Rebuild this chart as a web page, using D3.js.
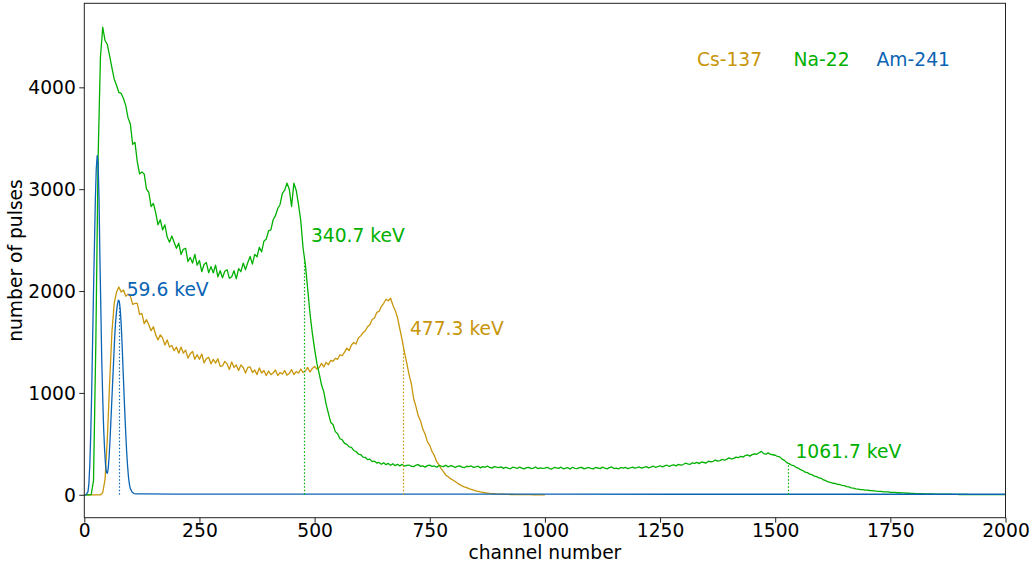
<!DOCTYPE html>
<html>
<head>
<meta charset="utf-8">
<script src="https://cdn.jsdelivr.net/npm/d3@7"></script>
<style>
  html, body { margin: 0; padding: 0; background: #fff; }
  svg { display: block; font-family: "DejaVu Sans", sans-serif; }
</style>
</head>
<body>
<svg id="chart" width="1035" height="566"></svg>
<script>
// ---------------- DATA ----------------
const xTicks = [0, 250, 500, 750, 1000, 1250, 1500, 1750, 2000];
const yTicks = [0, 1000, 2000, 3000, 4000];

// Na-22 counts, every 5 channels from 0 to 2000
const naCounts = [
  0,0,0,2,140,1480,3310,4290,4590,4460,4420,4310,4190,4080,4020,3950,3940,3890,3820,3700,
  3640,3440,3460,3270,3150,3170,3150,3000,2970,2830,2860,2770,2650,2700,2600,2650,2530,2480,2540,2480,
  2420,2470,2360,2410,2420,2290,2330,2275,2360,2255,2300,2190,2260,2280,2180,2240,2180,2255,2140,2200,
  2130,2195,2210,2125,2140,2200,2120,2220,2190,2275,2210,2280,2340,2265,2360,2335,2430,2385,2490,2510,
  2590,2600,2700,2740,2810,2850,2960,2990,3060,3000,2830,3060,2990,2850,2690,2420,2260,2020,1780,1590,
  1430,1290,1190,1080,1010,890,800,710,690,620,600,550,540,505,495,470,465,435,425,400,
  395,370,368,345,350,325,330,312,318,300,315,296,308,290,305,286,300,284,298,282,
  288,292,280,276,290,296,279,284,272,286,291,278,283,270,288,281,276,290,274,285,
  281,268,279,284,271,266,280,276,283,269,273,281,264,277,270,282,268,262,277,271,
  266,274,259,270,262,255,271,266,258,272,261,254,267,270,257,262,273,256,264,259,
  262,270,257,253,268,264,259,271,255,262,266,252,270,260,257,266,269,254,261,268,
  259,254,268,263,257,271,262,255,266,273,258,261,254,268,262,270,256,263,271,262,
  266,273,262,270,276,264,272,281,270,277,285,274,283,290,278,288,294,284,298,291,
  297,310,303,298,314,309,318,306,322,317,312,330,322,328,341,331,336,347,339,350,
  362,351,357,370,364,378,370,385,391,380,394,402,398,412,426,404,398,411,396,393,
  388,376,372,350,338,316,306,292,287,270,262,246,238,222,217,203,197,183,178,165,
  162,146,138,126,122,113,112,103,101,93,89,80,77,68,66,59,56,51,51,46,
  46,42,41,39,35,34,33,29,28,28,25,24,23,20,20,18,18,15,15,14,
  13,12,11,11,10,9,9,8,8,7,7,6,6,6,5,5,5,4,4,4,
  3,3,3,3,2,2,2,2,2,2,2,2,2,1,1,1,1,1,1,1,
  1
];

// Cs-137 counts, every 5 channels from 0 to 1000
const csCounts = [
  0,0,0,0,0,0,0,0,20,150,550,1100,1600,1880,1990,2040,1990,2010,1950,1970,
  1950,1870,1880,1880,1770,1780,1680,1720,1670,1610,1650,1570,1520,1570,1540,1470,1520,1450,1465,1415,
  1450,1390,1450,1390,1420,1342,1385,1407,1330,1375,1330,1382,1295,1337,1350,1285,1330,1292,1335,1260,
  1265,1310,1285,1230,1305,1250,1275,1220,1275,1250,1195,1250,1255,1200,1225,1180,1245,1195,1220,1170,
  1215,1180,1195,1225,1170,1200,1185,1220,1175,1190,1230,1180,1210,1195,1235,1200,1215,1250,1205,1240,
  1260,1235,1250,1290,1255,1300,1275,1320,1310,1340,1330,1375,1365,1400,1440,1415,1470,1495,1480,1540,
  1560,1590,1610,1650,1670,1720,1735,1790,1800,1850,1880,1920,1905,1930,1860,1810,1740,1630,1520,1400,
  1295,1180,1090,945,865,775,725,645,595,520,485,425,385,325,295,255,225,192,178,158,
  145,130,115,100,88,78,70,60,52,45,38,33,28,24,20,17,14,12,10,8,
  7,6,5,4,4,3,3,2,2,2,1,1,1,1,1,0,0,0,0,0,
  0
];

// Am-241 counts at listed channels
const amChannels = [0,4,8,10,12,14,16,18,20,22,24,26,28,30,32,34,36,38,40,42,44,46,48,50,52,54,56,58,60,62,64,66,68,70,72,74,76,78,80,82,84,86,88,90,92,94,96,98,100,104,108,115,130,200,400,700,1000,1300,1600,2000];
const amCounts   = [0,2,30,110,300,600,1000,1500,2000,2450,2900,3200,3330,3250,2900,2300,1800,1300,950,650,450,300,220,210,260,380,550,750,950,1150,1350,1550,1700,1800,1870,1910,1900,1820,1680,1480,1250,1020,800,600,420,280,170,100,60,25,12,8,8,7,7,6,6,5,5,5];

const naChannels = d3.range(0, 2001, 5);
const csChannels = d3.range(0, 1001, 5);

// photo-peak annotations
const peakLabels   = ["59.6 keV", "340.7 keV", "477.3 keV", "1061.7 keV"];
const peakChannels = [76, 476, 692, 1528];
const peakTops     = [1880, 2330, 1420, 310];
const peakTextX    = [92, 492, 707, 1544];
const peakTextY    = [1950, 2484, 1569, 360];
const peakSeries   = ["am", "na", "cs", "na"];

// legend-like texts
const sourceNames    = ["Cs-137", "Na-22", "Am-241"];
const sourceKeys     = ["cs", "na", "am"];
const sourceTextX    = [1330, 1540, 1720];
const sourceTextY    = 4206;

// ---------------- STYLE ----------------
const colors = { cs: "#c8960a", na: "#00b000", am: "#0a64b4" };
const W = 1035, H = 566;
const margin = { left: 84.3, right: W - 1005.5, top: 3.3, bottom: H - 517.7 };
const FS = 18.7;

const svg = d3.select("#chart");
const x = d3.scaleLinear().domain([0, 2000]).range([margin.left, W - margin.right]);
const y = d3.scaleLinear().domain([-225, 4825]).range([H - margin.bottom, margin.top]);

const g = svg.append("g");

svg.append("defs").append("clipPath").attr("id", "clip")
  .append("rect").attr("x", margin.left).attr("y", margin.top)
  .attr("width", x.range()[1] - margin.left).attr("height", y.range()[0] - margin.top);

const plot = g.append("g").attr("clip-path", "url(#clip)");

const line = d3.line().x(d => x(d[0])).y(d => y(d[1]));

const series = [
  { key: "cs", data: csChannels.map((c, i) => [c, csCounts[i]]) },
  { key: "na", data: naChannels.map((c, i) => [c, naCounts[i]]) },
  { key: "am", data: amChannels.map((c, i) => [c, amCounts[i]]) }
];

series.forEach(s => {
  plot.append("path")
    .attr("d", line(s.data))
    .attr("fill", "none")
    .attr("stroke", colors[s.key])
    .attr("stroke-width", 1.3)
    .attr("stroke-linejoin", "round");
});

// dotted lines
peakChannels.forEach((c, i) => {
  const px = Math.round(x(c)) + 0.5;
  plot.append("line")
    .attr("x1", px).attr("x2", px)
    .attr("y1", y(0)).attr("y2", y(peakTops[i]))
    .attr("stroke", colors[peakSeries[i]])
    .attr("stroke-width", 1.2)
    .attr("stroke-dasharray", "1.5,2");
});

// peak labels
peakLabels.forEach((t, i) => {
  g.append("text")
    .attr("x", x(peakTextX[i])).attr("y", y(peakTextY[i]))
    .attr("fill", colors[peakSeries[i]])
    .attr("font-size", FS)
    .text(t);
});

// source names
sourceNames.forEach((t, i) => {
  g.append("text")
    .attr("x", x(sourceTextX[i])).attr("y", y(sourceTextY))
    .attr("fill", colors[sourceKeys[i]])
    .attr("font-size", FS)
    .text(t);
});

// axes
const xAxis = d3.axisBottom(x).tickValues(xTicks).tickSize(5).tickPadding(4).tickFormat(d3.format("d"));
const yAxis = d3.axisLeft(y).tickValues(yTicks).tickSize(5).tickPadding(4).tickFormat(d3.format("d"));

const gx = g.append("g").attr("transform", `translate(0,${y.range()[0]})`).call(xAxis);
const gy = g.append("g").attr("transform", `translate(${margin.left},0)`).call(yAxis);
[gx, gy].forEach(a => {
  a.select(".domain").remove();
  a.selectAll("line").attr("stroke", "#222").attr("stroke-width", 1);
  a.selectAll("text").attr("font-size", FS).attr("fill", "#000").attr("font-family", "DejaVu Sans, sans-serif");
});
gx.selectAll(".tick text").attr("y", 19.5).attr("dy", "0");
gy.selectAll(".tick text").attr("x", -8.5).attr("dy", "0.35em");

// frame
g.append("rect")
  .attr("x", margin.left).attr("y", margin.top)
  .attr("width", x.range()[1] - margin.left).attr("height", y.range()[0] - margin.top)
  .attr("fill", "none").attr("stroke", "#222").attr("stroke-width", 1);

// axis titles
g.append("text")
  .attr("x", (x.range()[0] + x.range()[1]) / 2).attr("y", 559)
  .attr("text-anchor", "middle").attr("font-size", FS).attr("fill", "#000")
  .text("channel number");
g.append("text")
  .attr("transform", `translate(22,${(y.range()[0] + y.range()[1]) / 2}) rotate(-90)`)
  .attr("text-anchor", "middle").attr("font-size", FS).attr("fill", "#000")
  .text("number of pulses");
</script>
</body>
</html>
